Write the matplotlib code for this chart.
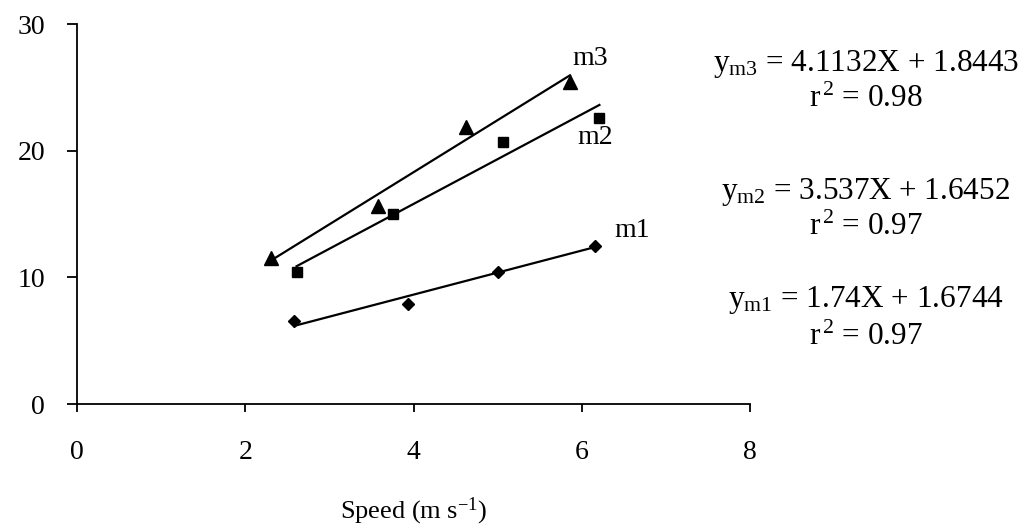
import matplotlib
matplotlib.use("Agg")
import matplotlib.pyplot as plt
import numpy as np

plt.rcParams["font.family"] = ["Liberation Serif", "DejaVu Serif"]
plt.rcParams["mathtext.fontset"] = "custom"
plt.rcParams["mathtext.rm"] = "Liberation Serif"
plt.rcParams["mathtext.it"] = "Liberation Serif:italic"

# Measured points: speed (m/s) and response for three series
speed_m3 = [2.31, 3.58, 4.63, 5.86]
vals_m3 = [11.5, 15.6, 21.9, 25.4]
speed_m2 = [2.61, 3.76, 5.06, 6.21]
vals_m2 = [10.4, 15.0, 20.7, 22.6]
speed_m1 = [2.58, 3.93, 5.00, 6.16]
vals_m1 = [6.55, 7.9, 10.4, 12.5]

# Linear fits (slope, intercept, r^2)
fit_m3 = (4.1132, 1.8443, 0.98)
fit_m2 = (3.537, 1.6452, 0.97)
fit_m1 = (1.74, 1.6744, 0.97)

x_ticks = [0, 2, 4, 6, 8]
y_ticks = [0, 10, 20, 30]

W, H = 1022, 529
fig = plt.figure(figsize=(W / 100, H / 100), dpi=100)
ax = fig.add_axes([77 / W, 1 - 404 / H, (750 - 77) / W, (404 - 24) / H])

series = [
    (speed_m3, vals_m3, fit_m3, "^", 9.5),
    (speed_m2, vals_m2, fit_m2, "s", 7.5),
    (speed_m1, vals_m1, fit_m1, "D", 6.5),
]
for xs, ys, (slope, icpt, _), mk, ms in series:
    xs = np.asarray(xs)
    ax.plot(xs, ys, linestyle="none", marker=mk, markersize=ms, color="black")
    xl = np.array([xs.min(), xs.max()])
    ax.plot(xl, slope * xl + icpt, color="black", lw=1.6)

ax.set_xlim(0, 8)
ax.set_ylim(0, 30)
ax.set_xticks(x_ticks)
ax.set_yticks(y_ticks)
ax.spines["top"].set_visible(False)
ax.spines["right"].set_visible(False)
for s in ("left", "bottom"):
    ax.spines[s].set_linewidth(1.3)
ax.tick_params(axis="y", direction="out", length=7, width=1.3, pad=16, labelsize=20)
ax.tick_params(axis="x", direction="out", length=6, width=1.3, pad=20, labelsize=20)
ax.set_xlabel(r"Speed (m s$^{\mathrm{-1}}$)", fontsize=19, labelpad=22)

# Series labels
ax.text(6.1, 27.3, "m3", fontsize=20, ha="center", va="center")
ax.text(6.16, 21.0, "m2", fontsize=20, ha="center", va="center")
ax.text(6.6, 13.7, "m1", fontsize=20, ha="center", va="center")

# Regression equations
eq_blocks = [
    ("m3", fit_m3, 64, 99),
    ("m2", fit_m2, 192, 227),
    ("m1", fit_m1, 300, 337),
]
for name, (slope, icpt, r2), y_eq, y_r in eq_blocks:
    fig.text(866 / W, 1 - y_eq / H,
             r"$\mathrm{y_{%s}}$ = %sX + %s" % (name, f"{slope:g}", f"{icpt:g}"),
             fontsize=22.5, ha="center", va="center")
    fig.text(866 / W, 1 - y_r / H, r"r$^{\,2}$ = %.2f" % r2,
             fontsize=22.5, ha="center", va="center")

fig.savefig("out.png", dpi=100)
